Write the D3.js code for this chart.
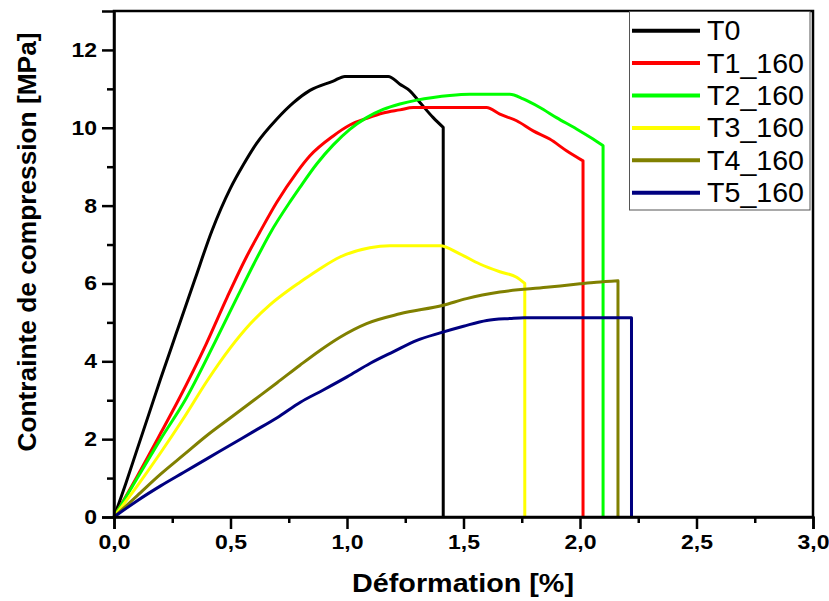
<!DOCTYPE html>
<html><head><meta charset="utf-8">
<script src="https://cdn.jsdelivr.net/npm/d3@7"></script>
<style>
body{margin:0;background:#fff;}
text{font-family:"Liberation Sans",Arial,sans-serif;}
</style></head>
<body><svg id="c" width="829" height="601"></svg>
<script>
const seriesNames = ["T0","T1_160","T2_160","T3_160","T4_160","T5_160"];
const seriesColors = ["#000000","#ff0000","#00ff00","#ffff00","#808000","#000080"];
const xTicks = [0,0.5,1,1.5,2,2.5,3];
const yTicks = [0,2,4,6,8,10,12];
const t0 = [[0,0],[0.05,0.85],[0.1,1.75],[0.15,2.65],[0.2,3.55],[0.269,4.75],[0.347,6.1],[0.42,7.35],[0.5,8.45],[0.555,9.05],[0.612,9.6],[0.698,10.22],[0.769,10.64],[0.841,10.96],[0.941,11.2],[0.991,11.32],[1.177,11.32],[1.227,11.12],[1.27,10.95],[1.313,10.65],[1.37,10.26],[1.413,10.01],[1.413,0]];
const t1 = [[0,0],[0.1,1.05],[0.2,2.15],[0.276,3.0],[0.396,4.45],[0.486,5.65],[0.57,6.7],[0.626,7.32],[0.698,8.08],[0.784,8.85],[0.841,9.28],[0.941,9.79],[1.012,10.07],[1.084,10.24],[1.155,10.38],[1.227,10.46],[1.284,10.52],[1.599,10.52],[1.656,10.35],[1.728,10.18],[1.799,9.92],[1.87,9.71],[1.942,9.41],[2.013,9.15],[2.013,0]];
const t2 = [[0,0],[0.1,1.0],[0.2,2.0],[0.305,3.0],[0.434,4.5],[0.533,5.7],[0.6,6.5],[0.669,7.28],[0.758,8.12],[0.798,8.47],[0.87,9.07],[0.941,9.56],[1.012,9.96],[1.084,10.26],[1.155,10.47],[1.227,10.61],[1.299,10.71],[1.37,10.78],[1.441,10.83],[1.527,10.86],[1.699,10.86],[1.756,10.74],[1.828,10.52],[1.899,10.26],[1.985,9.97],[2.056,9.71],[2.099,9.54],[2.099,0]];
const t3 = [[0,0],[0.1,0.8],[0.2,1.65],[0.3,2.55],[0.4,3.5],[0.5,4.35],[0.583,4.95],[0.669,5.45],[0.755,5.85],[0.798,6.03],[0.884,6.38],[0.97,6.68],[1.098,6.92],[1.184,6.97],[1.399,6.97],[1.484,6.76],[1.57,6.5],[1.656,6.3],[1.728,6.16],[1.763,6.0],[1.763,0]];
const t4 = [[0,0],[0.1,0.55],[0.2,1.1],[0.3,1.6],[0.4,2.1],[0.5,2.55],[0.6,3.0],[0.7,3.45],[0.798,3.9],[0.884,4.28],[0.97,4.62],[1.084,4.97],[1.227,5.22],[1.413,5.44],[1.513,5.61],[1.656,5.78],[1.856,5.9],[2.0,5.99],[2.07,6.03],[2.163,6.07],[2.163,0]];
const t5 = [[0,0],[0.1,0.42],[0.2,0.8],[0.3,1.15],[0.4,1.5],[0.5,1.85],[0.6,2.2],[0.7,2.55],[0.8,2.95],[0.9,3.27],[1.0,3.6],[1.1,3.95],[1.2,4.25],[1.3,4.54],[1.4,4.73],[1.5,4.9],[1.6,5.05],[1.7,5.1],[1.76,5.12],[2.221,5.12],[2.221,0]];
const allSeries = [t0,t1,t2,t3,t4,t5];

const svg = d3.select("#c");
const L=114, T=11, R=813, B=517;
const x = d3.scaleLinear().domain([0,3]).range([L,R]);
const y = d3.scaleLinear().domain([0,13]).range([B,T]);
const fmt = d => d3.format(".1f")(d).replace(".",",");

// curves: smooth body then vertical failure drop
const line = d3.line().x(d=>x(d[0])).y(d=>y(d[1])).curve(d3.curveMonotoneX);
allSeries.forEach((s,i)=>{
  const body = s.slice(0,-1), last = s[s.length-1];
  const d = line(body) + `L${x(last[0])},${y(last[1])}`;
  svg.append("path").attr("d",d).attr("fill","none")
    .attr("stroke",seriesColors[i]).attr("stroke-width",3).attr("stroke-linejoin","round");
});

// frame
svg.append("rect").attr("x",L).attr("y",T).attr("width",R-L).attr("height",B-T)
  .attr("fill","none").attr("stroke","#000").attr("stroke-width",2.5);

// axes
const xMinor = d3.range(0.25,3,0.5);
const yMinor = d3.range(1,13,2);
const gx = svg.append("g").attr("transform",`translate(0,${B})`)
  .call(d3.axisBottom(x).tickValues(xTicks).tickFormat(fmt).tickSize(12).tickPadding(6));
svg.append("g").attr("transform",`translate(0,${B})`)
  .call(d3.axisBottom(x).tickValues(xMinor).tickFormat("").tickSize(6))
  .call(g=>g.select(".domain").remove());
const gy = svg.append("g").attr("transform",`translate(${L},0)`)
  .call(d3.axisLeft(y).tickValues(yTicks).tickFormat(d3.format("d")).tickSize(12).tickPadding(5));
svg.append("g").attr("transform",`translate(${L},0)`)
  .call(d3.axisLeft(y).tickValues(yMinor).tickFormat("").tickSize(7))
  .call(g=>g.select(".domain").remove());
svg.selectAll(".tick line").attr("stroke","#000").attr("stroke-width",2.5);
svg.selectAll(".domain").attr("stroke","#000").attr("stroke-width",2.5);
const sx = 1.15;
gx.selectAll("text").attr("font-size",20).attr("font-weight","bold").attr("fill","#000")
  .attr("font-family","'Liberation Sans',Arial,sans-serif").attr("transform",`scale(${sx},1)`);
gy.selectAll("text").attr("font-size",20).attr("font-weight","bold").attr("fill","#000")
  .attr("font-family","'Liberation Sans',Arial,sans-serif")
  .attr("x",-17/sx).attr("transform",`scale(${sx},1)`);

// titles
svg.append("text").attr("x",463).attr("y",592).attr("text-anchor","middle")
  .attr("font-size",26).attr("font-weight","bold")
  .attr("textLength",222).attr("lengthAdjust","spacingAndGlyphs").text("Déformation [%]");
svg.append("text").attr("transform","translate(36,242) rotate(-90)").attr("text-anchor","middle")
  .attr("font-size",26).attr("font-weight","bold")
  .attr("textLength",419).attr("lengthAdjust","spacingAndGlyphs").text("Contrainte de compression [MPa]");

// legend
const lg = svg.append("g");
lg.append("rect").attr("x",629.5).attr("y",11.5).attr("width",180.5).attr("height",198.5)
  .attr("fill","#fff").attr("stroke","#555").attr("stroke-width",1);
seriesNames.forEach((n,i)=>{
  const cy = 30.7 + i*32.4;
  lg.append("line").attr("x1",632).attr("x2",700).attr("y1",cy).attr("y2",cy)
    .attr("stroke",seriesColors[i]).attr("stroke-width",4);
  lg.append("text").attr("x",707/1.06).attr("y",cy+9.5).attr("font-size",27)
    .attr("transform","scale(1.06,1)").attr("fill","#000").text(n);
});
</script></body></html>
